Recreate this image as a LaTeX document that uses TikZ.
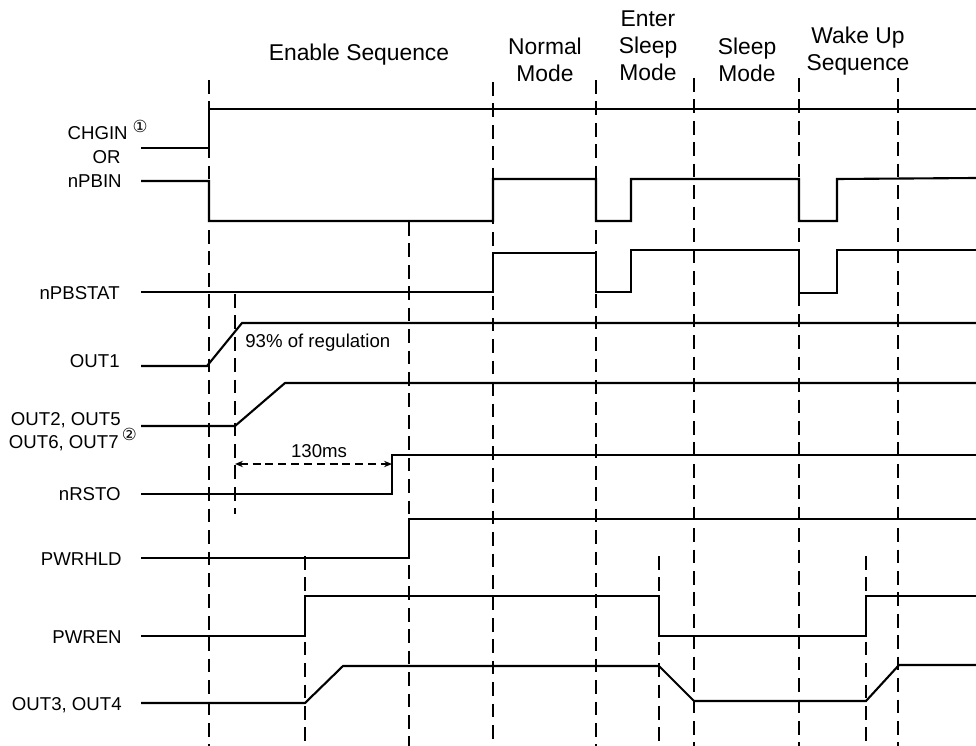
\documentclass[tikz,border=0pt]{standalone}
\usepackage{fontspec}
\setmainfont{Liberation Sans}
\newfontfamily\circfont{DejaVu Sans}
\usetikzlibrary{arrows.meta, positioning}

\begin{document}
\begin{tikzpicture}[
    x=0.02cm, y=-0.02cm,
    wave/.style={line width=1.2pt, line join=miter},
    guide/.style={line width=1pt, dash pattern=on 7.8pt off 4.4pt},
    siglabel/.style={
        anchor=base east,
        inner sep=0pt,
        font=\fontsize{10.6}{12.5}\selectfont
    },
    phase/.style={
        align=center,
        inner sep=0pt,
        font=\fontsize{13}{15.3}\selectfont
    },
    note/.style={inner sep=0pt, font=\circfont\fontsize{9.5}{10}\selectfont},
    timing/.style={line width=0.9pt, dash pattern=on 4.5pt off 2.8pt,
        {Stealth[length=4.5pt, width=3.6pt]}-{Stealth[length=4.5pt, width=3.6pt]}}
]
\useasboundingbox (0,0) rectangle (976,746);

% --- Phase headers
\node[phase] (enable) at (359,55) {Enable Sequence};
\node[phase] (normal) at (545,60) {Normal\\Mode};
\node[phase] (entersleep) at (648,46) {Enter\\Sleep\\Mode};
\node[phase] (sleep) at (747,60) {Sleep\\Mode};
\node[phase] (wakeup) at (858,51) {Wake Up\\Sequence};

% --- Dashed guides
\draw[guide] (209,80) -- (209,746);
\draw[guide] (235,294) -- (235,514);
\draw[guide] (305,556) -- (305,746);
\draw[guide] (409,222) -- (409,746);
\draw[guide] (493,82) -- (493,746);
\draw[guide] (596,80) -- (596,746);
\draw[guide] (659,556) -- (659,746);
\draw[guide] (694,78) -- (694,746);
\draw[guide] (799,78) -- (799,746);
\draw[guide] (866,556) -- (866,746);
\draw[guide] (898,78) -- (898,746);

% --- Signal names
\node[siglabel] (lblchgin) at (128,140) {CHGIN};
\node[note, right=2.5pt of lblchgin.north east] (note1) {①};
\node[siglabel] (lblor) at (121,164) {OR};
\node[siglabel] (lblnpbin) at (122,188) {nPBIN};
\node[siglabel] (lblnpbstat) at (120,299) {nPBSTAT};
\node[siglabel] (lblout1) at (120,367) {OUT1};
\node[siglabel] (lblout25) at (121,425) {OUT2, OUT5};
\node[siglabel] (lblout67) at (119,448) {OUT6, OUT7};
\node[note, right=1.5pt of lblout67.north east] (note2) {②};
\node[siglabel] (lblnrsto) at (121,500) {nRSTO};
\node[siglabel] (lblpwrhld) at (122,565) {PWRHLD};
\node[siglabel] (lblpwren) at (122,643) {PWREN};
\node[siglabel] (lblout34) at (122,710) {OUT3, OUT4};

% --- Waveforms
\draw[wave] (141,148) -- (209,148) -- (209,109) -- (976,109);
\draw[wave] (141,181) -- (209,181) -- (209,221) -- (493,221) -- (493,179)
    -- (596,179) -- (596,221) -- (631,221) -- (631,179) -- (799,179)
    -- (799,221) -- (837,221) -- (837,179) -- (976,178);
\draw[wave] (141,292) -- (493,292) -- (493,253) -- (596,253) -- (596,292)
    -- (631,292) -- (631,250) -- (799,250) -- (799,293) -- (837,293)
    -- (837,250) -- (976,250);
\draw[wave] (141,366) -- (207,366) -- (242,323) -- (976,323);
\draw[wave] (141,426) -- (235,426) -- (285,383) -- (976,383);
\draw[wave] (141,494) -- (392,494) -- (392,455) -- (976,455);
\draw[wave] (141,558) -- (409,558) -- (409,519) -- (976,519);
\draw[wave] (141,636) -- (305,636) -- (305,596) -- (659,596) -- (659,636)
    -- (866,636) -- (866,596) -- (976,596);
\draw[wave] (141,703) -- (305,703) -- (343,666) -- (659,666) -- (694,701)
    -- (866,701) -- (899,665) -- (976,665);

% --- Timing notes
\node[siglabel, anchor=base west] (reg93) at (245,347) {93\% of regulation};
\coordinate (t130start) at (235,464);
\coordinate (t130end) at (392,464);
\draw[timing] (t130start) -- (t130end);
\node[siglabel, anchor=center] (t130) at (319,451) {130ms};

\end{tikzpicture}
\end{document}
